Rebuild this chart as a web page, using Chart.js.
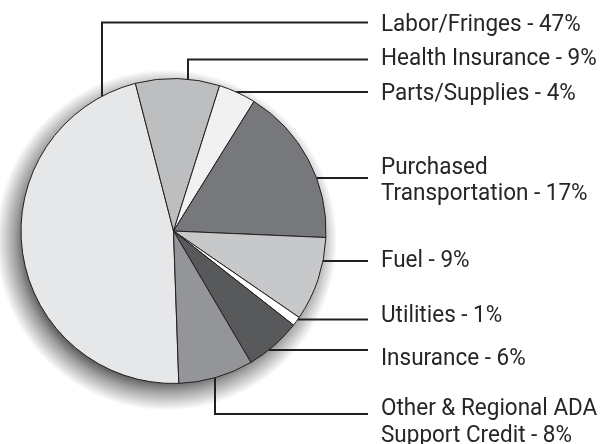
<!DOCTYPE html>
<html>
<head>
<meta charset="utf-8">
<script src="https://cdn.jsdelivr.net/npm/chart.js@4"></script>
<style>
  html, body { margin: 0; padding: 0; background: #fff; }
  #wrap { width: 612px; height: 444px; }
</style>
</head>
<body>
<div id="wrap"><canvas id="pie" width="612" height="444"></canvas></div>
<script>
const categories = [
  'Labor/Fringes', 'Health Insurance', 'Parts/Supplies', 'Purchased Transportation',
  'Fuel', 'Utilities', 'Insurance', 'Other & Regional ADA Support Credit'
];
const shares = [47, 9, 4, 17, 9, 1, 6, 8];
const labelLines = [
  ['Labor/Fringes - 47%'],
  ['Health Insurance - 9%'],
  ['Parts/Supplies - 4%'],
  ['Purchased', 'Transportation - 17%'],
  ['Fuel - 9%'],
  ['Utilities - 1%'],
  ['Insurance - 6%'],
  ['Other & Regional ADA', 'Support Credit - 8%']
];
const sliceColors = ['#e6e7e8', '#bcbec0', '#f1f1f2', '#77787b', '#c7c8ca', '#ffffff', '#58595b', '#939598'];

// leader layout: y of the horizontal line, optional x of a vertical drop to the pie, text baseline
const leaders = [
  { y: 22.5, drop: 102, text: 31 },
  { y: 59.5, drop: 188, text: 65 },
  { y: 92, text: 100 },
  { y: 178, text: 173.5 },
  { y: 261, text: 266.5 },
  { y: 319.5, text: 321.5 },
  { y: 350, text: 365 },
  { y: 414, drop: 215, text: 415 }
];

const decorPlugin = {
  id: 'decor',
  beforeDatasetsDraw(chart) {
    // soft shadow toward the lower left, as a radial fade behind the pie
    const arc = chart.getDatasetMeta(0).data[0];
    const ctx = chart.ctx;
    const r = arc.outerRadius;
    const sx = arc.x - 7, sy = arc.y + 9;
    const g = ctx.createRadialGradient(sx, sy, r - 14, sx, sy, r + 18);
    g.addColorStop(0, 'rgba(0,0,0,0.7)');
    g.addColorStop(0.4, 'rgba(0,0,0,0.38)');
    g.addColorStop(1, 'rgba(0,0,0,0)');
    ctx.save();
    ctx.fillStyle = g;
    ctx.beginPath();
    ctx.arc(sx, sy, r + 18, 0, Math.PI * 2);
    ctx.fill();
    ctx.restore();
  },
  afterDatasetsDraw(chart) {
    const arc = chart.getDatasetMeta(0).data[0];
    const cx = arc.x, cy = arc.y, r = arc.outerRadius;
    const ctx = chart.ctx;
    const lineEnd = 368, textX = 381;
    ctx.save();
    ctx.strokeStyle = '#231f20';
    ctx.lineWidth = 2;
    leaders.forEach((l) => {
      ctx.beginPath();
      if (l.drop !== undefined) {
        const d = Math.sqrt(r * r - (l.drop - cx) * (l.drop - cx));
        const edgeY = l.y < cy ? cy - d : cy + d;
        ctx.moveTo(l.drop, edgeY);
        ctx.lineTo(l.drop, l.y);
        ctx.lineTo(lineEnd, l.y);
      } else {
        const edgeX = cx + Math.sqrt(r * r - (l.y - cy) * (l.y - cy));
        ctx.moveTo(edgeX, l.y);
        ctx.lineTo(lineEnd, l.y);
      }
      ctx.stroke();
    });
    // stretch Roboto a bit vertically to get the tall, condensed look
    ctx.fillStyle = '#262626';
    ctx.font = '22.5px Roboto';
    ctx.textBaseline = 'alphabetic';
    leaders.forEach((l, i) => {
      labelLines[i].forEach((t, j) => {
        ctx.save();
        ctx.translate(textX, l.text + j * 26.5);
        ctx.scale(1, 1.1);
        ctx.fillText(t, 0, 0);
        ctx.restore();
      });
    });
    ctx.restore();
  }
};

new Chart(document.getElementById('pie'), {
  type: 'pie',
  data: {
    labels: categories,
    datasets: [{
      data: shares,
      backgroundColor: sliceColors,
      borderColor: '#231f20',
      borderWidth: 1,
      hoverOffset: 0,
      offset: 0
    }]
  },
  options: {
    responsive: false,
    animation: false,
    rotation: 178,
    layout: { padding: { left: 20.5, right: 285.5, top: 78, bottom: 60 } },
    plugins: {
      legend: { display: false },
      tooltip: { enabled: false }
    }
  },
  plugins: [decorPlugin]
});
</script>
</body>
</html>
